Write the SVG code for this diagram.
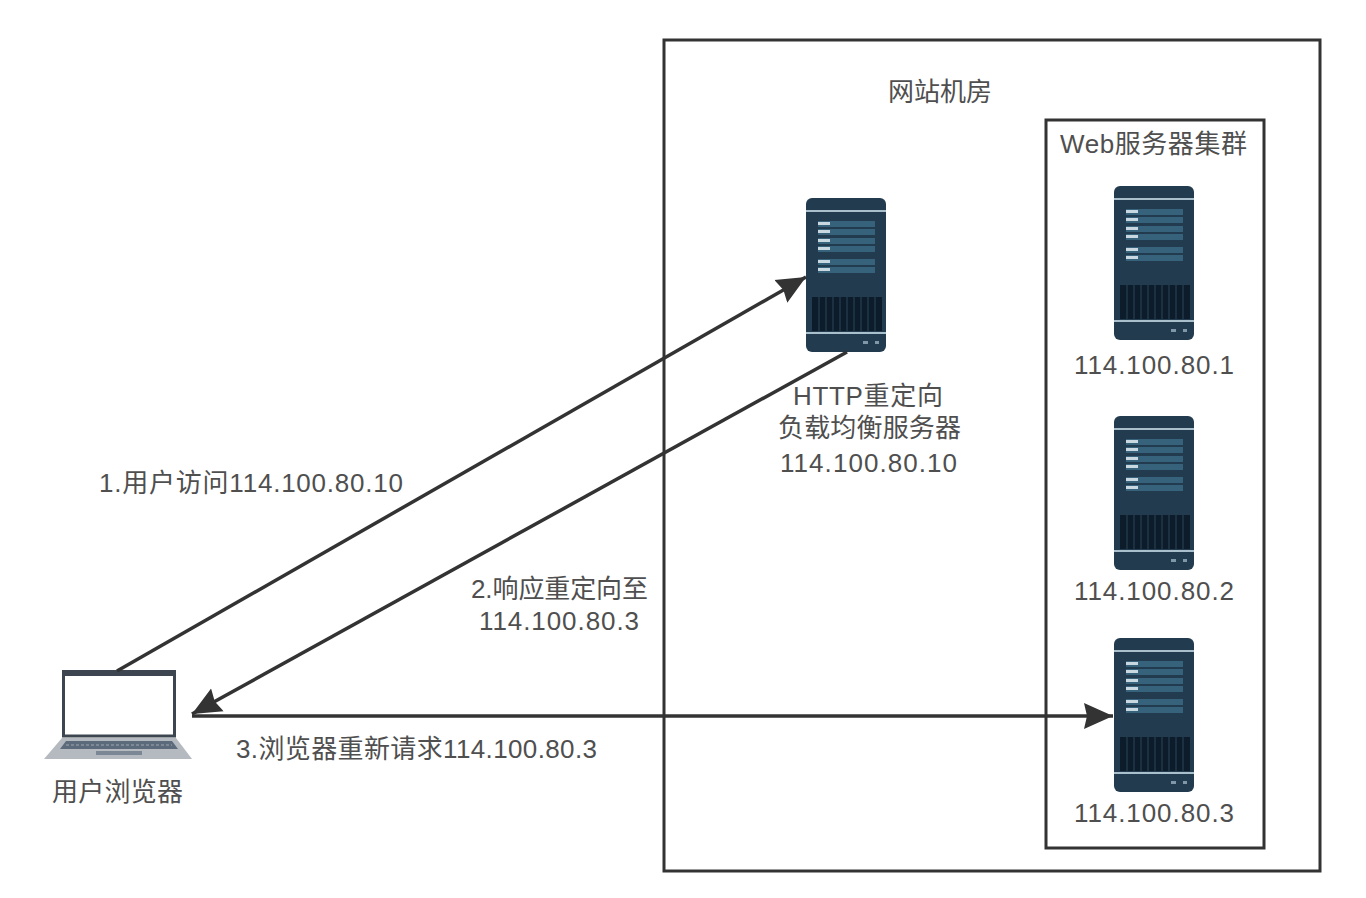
<svg xmlns="http://www.w3.org/2000/svg" width="1366" height="898" viewBox="0 0 1366 898">
<style>
.box{fill:none;stroke:#333;stroke-width:3}
.link{fill:none;stroke:#333;stroke-width:3.5}
text{font-family:"Liberation Sans","Noto Sans CJK SC",sans-serif;font-size:26px;fill:#4f4f4f}
.row{fill:#37627c}
.lab{fill:#c9d8e0}
.sep{fill:#a9c0cc}
.bar{fill:#0c1c2b}
</style>
<defs>
<marker id="arrow" markerUnits="userSpaceOnUse" markerWidth="32" markerHeight="32" refX="29" refY="14" orient="auto">
<path d="M0 1L29 14L0 27L3 14Z" fill="#333"/>
</marker>
<symbol id="server" width="80" height="155" viewBox="0 0 80 155" overflow="visible">
<rect width="80" height="154" rx="6" fill="#233b4e"/>
<rect y="12" width="80" height="2" class="sep"/>
<rect y="134" width="80" height="2" class="sep"/>
<rect x="12" y="23" width="57" height="6" class="row"/>
<rect x="12" y="31" width="57" height="6" class="row"/>
<rect x="12" y="40" width="57" height="6" class="row"/>
<rect x="12" y="48" width="57" height="6" class="row"/>
<rect x="12" y="61" width="57" height="6" class="row"/>
<rect x="12" y="69" width="57" height="6" class="row"/>
<rect x="12" y="24" width="12" height="3" class="lab"/>
<rect x="12" y="32" width="12" height="3" class="lab"/>
<rect x="12" y="41" width="12" height="3" class="lab"/>
<rect x="12" y="49" width="12" height="3" class="lab"/>
<rect x="12" y="62" width="12" height="3" class="lab"/>
<rect x="12" y="70" width="12" height="3" class="lab"/>
<rect x="6" y="99" width="70" height="34" class="bar"/>
<path d="M13 99V133M20 99V133M27 99V133M34 99V133M41 99V133M48 99V133M55 99V133M62 99V133M69 99V133" stroke="#2b4558" stroke-width="1" fill="none"/>
<rect x="57" y="143" width="5" height="3" fill="#7f97a6"/>
<rect x="69" y="143" width="4" height="3" fill="#7f97a6"/>
</symbol>
</defs>
<rect width="1366" height="898" fill="#fff"/>
<g id="site-room">
<rect class="box" x="664" y="40" width="656" height="831"/>
<text x="888" y="101" textLength="104">网站机房</text>
</g>
<g id="web-cluster">
<rect class="box" x="1046" y="120" width="218" height="728"/>
<text x="1060" y="153" textLength="187">Web服务器集群</text>
</g>
<g id="load-balancer">
<use href="#server" x="806" y="198"/>
<text x="793" y="405" textLength="150">HTTP重定向</text>
<text x="778" y="437" textLength="183">负载均衡服务器</text>
<text x="780" y="472" textLength="177">114.100.80.10</text>
</g>
<g id="server-1">
<use href="#server" x="1114" y="186"/>
<text x="1074" y="374" textLength="160">114.100.80.1</text>
</g>
<g id="server-2">
<use href="#server" x="1114" y="416"/>
<text x="1074" y="600" textLength="160">114.100.80.2</text>
</g>
<g id="server-3">
<use href="#server" x="1114" y="638"/>
<text x="1074" y="822" textLength="160">114.100.80.3</text>
</g>
<g id="browser">
<path d="M62 738H176L192 759H44Z" fill="#b4bac0"/>
<path d="M66 741H172L178 749H60Z" fill="#5c6b7c"/>
<path d="M66 745H172" stroke="#a0a8b2" stroke-width="1" stroke-dasharray="3 2" fill="none"/>
<rect x="96" y="751" width="46" height="4" fill="#7b8794"/>
<rect x="63.500" y="672" width="111" height="64" fill="#fff" stroke="#3d4650" stroke-width="3"/>
<rect x="62" y="670" width="114" height="6" fill="#3d4650"/>
<text x="52" y="801" textLength="131">用户浏览器</text>
</g>
<g id="connectors">
<path class="link" d="M117 671L806 277" marker-end="url(#arrow)"/>
<path class="link" d="M847 352L192 714" marker-end="url(#arrow)"/>
<path class="link" d="M192 716H1113" marker-end="url(#arrow)"/>
</g>
<g id="labels">
<text x="99" y="492" textLength="304">1.用户访问114.100.80.10</text>
<text x="471" y="598" textLength="177">2.响应重定向至</text>
<text x="479" y="630" textLength="160">114.100.80.3</text>
<text x="236" y="758" textLength="361">3.浏览器重新请求114.100.80.3</text>
</g>
</svg>
